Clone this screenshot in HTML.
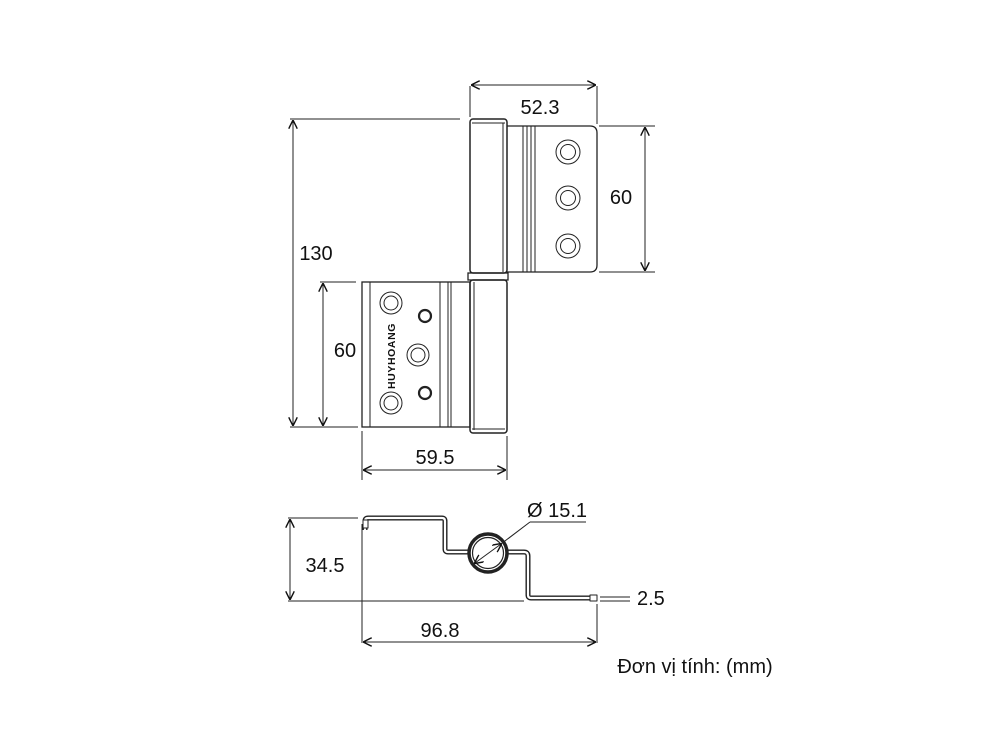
<!DOCTYPE html>
<html><head><meta charset="utf-8"><style>
body{margin:0;background:#fff}
svg text{font-family:"Liberation Sans",sans-serif;fill:#111}
</style></head><body>
<svg width="1000" height="748" viewBox="0 0 1000 748" xmlns="http://www.w3.org/2000/svg">
<defs>
<marker id="a" viewBox="0 0 10 10" refX="9" refY="5" markerWidth="9" markerHeight="9" orient="auto-start-reverse" markerUnits="userSpaceOnUse"><path d="M0,0 L10,5 L0,10" fill="none" stroke="#111" stroke-width="1.6"/></marker>
</defs>
<g stroke="#222" fill="none" stroke-width="1">
<path d="M507,126 H590 Q597,126 597,133 V265 Q597,272 590,272 H507" stroke-width="1.3"/>
<line x1="523" y1="126" x2="523" y2="272"/><line x1="527" y1="126" x2="527" y2="272"/>
<line x1="531" y1="126" x2="531" y2="272"/><line x1="535" y1="126" x2="535" y2="272"/>
<circle cx="568" cy="152" r="12"/><circle cx="568" cy="152" r="7.5"/>
<circle cx="568" cy="198" r="12"/><circle cx="568" cy="198" r="7.5"/>
<circle cx="568" cy="246" r="12"/><circle cx="568" cy="246" r="7.5"/>
<rect x="470" y="119" width="37" height="154" rx="3" stroke-width="1.5"/>
<line x1="472" y1="123" x2="505" y2="123"/><line x1="503" y1="123" x2="503" y2="272"/>
<rect x="468" y="273" width="40" height="7" stroke-width="1.3"/>
<rect x="470" y="280" width="37" height="153" rx="3" stroke-width="1.5"/>
<line x1="472" y1="429" x2="505" y2="429"/><line x1="474" y1="282" x2="474" y2="430"/>
<rect x="362" y="282" width="108" height="145" stroke-width="1.3"/>
<line x1="370" y1="282" x2="370" y2="427"/>
<line x1="440" y1="282" x2="440" y2="427"/><line x1="448" y1="282" x2="448" y2="427"/><line x1="451" y1="282" x2="451" y2="427"/>
<circle cx="391" cy="303" r="11"/><circle cx="391" cy="303" r="7"/>
<circle cx="391" cy="403" r="11"/><circle cx="391" cy="403" r="7"/>
<circle cx="418" cy="355" r="11"/><circle cx="418" cy="355" r="7"/>
<circle cx="425" cy="316" r="6" stroke-width="2.2"/><circle cx="425" cy="393" r="6" stroke-width="2.2"/>
</g>
<text x="0" y="0" transform="translate(395,356) rotate(-90)" text-anchor="middle" font-size="10.5" font-weight="bold" style="letter-spacing:0.6px">HUYHOANG</text>
<g stroke="#222" stroke-width="1" fill="none">
<line x1="470" y1="86" x2="470" y2="117"/><line x1="597" y1="86" x2="597" y2="124"/>
<line x1="472" y1="85" x2="595" y2="85" marker-start="url(#a)" marker-end="url(#a)"/>
<line x1="599" y1="126" x2="655" y2="126"/><line x1="599" y1="272" x2="655" y2="272"/>
<line x1="645" y1="128" x2="645" y2="270" marker-start="url(#a)" marker-end="url(#a)"/>
<line x1="290" y1="119" x2="460" y2="119"/><line x1="290" y1="427" x2="358" y2="427"/>
<line x1="293" y1="121" x2="293" y2="425" marker-start="url(#a)" marker-end="url(#a)"/>
<line x1="320" y1="282" x2="356" y2="282"/>
<line x1="323" y1="284" x2="323" y2="425" marker-start="url(#a)" marker-end="url(#a)"/>
<line x1="362" y1="431" x2="362" y2="480"/><line x1="507" y1="436" x2="507" y2="480"/>
<line x1="364" y1="470" x2="505" y2="470" marker-start="url(#a)" marker-end="url(#a)"/>
</g>
<text x="540" y="114" text-anchor="middle" font-size="20">52.3</text>
<text x="621" y="204" text-anchor="middle" font-size="20">60</text>
<text x="316" y="260" text-anchor="middle" font-size="20">130</text>
<text x="345" y="357" text-anchor="middle" font-size="20">60</text>
<text x="435" y="464" text-anchor="middle" font-size="20">59.5</text>
<g fill="none" stroke-linejoin="round">
<path d="M365,530 V521 Q365,518 368,518 H442 Q445,518 445,521 V549 Q445,552 448,552 H470 M506,552 H524 Q528,552 528,556 V595 Q528,598 531,598 H596" stroke="#222" stroke-width="5"/>
<path d="M365,530 V521 Q365,518 368,518 H442 Q445,518 445,521 V549 Q445,552 448,552 H470 M506,552 H524 Q528,552 528,556 V595 Q528,598 531,598 H596" stroke="#fff" stroke-width="2.2"/>
<rect x="363" y="520" width="5" height="8" stroke="#222" stroke-width="1" fill="#fff"/>
<rect x="590" y="595" width="7" height="6" stroke="#222" stroke-width="1" fill="#fff"/>
<circle cx="488" cy="553" r="19" stroke="#222" stroke-width="3.5"/>
<circle cx="488" cy="553" r="15.5" stroke="#222" stroke-width="1.2"/>
</g>
<g stroke="#222" stroke-width="1" fill="none">
<line x1="475" y1="563" x2="501" y2="544" marker-start="url(#a)" marker-end="url(#a)"/>
<line x1="501" y1="544" x2="530" y2="522"/><line x1="530" y1="522" x2="586" y2="522"/>
<line x1="288" y1="518" x2="358" y2="518"/><line x1="288" y1="601" x2="524" y2="601"/>
<line x1="290" y1="520" x2="290" y2="599" marker-start="url(#a)" marker-end="url(#a)"/>
<line x1="362" y1="524" x2="362" y2="643"/><line x1="597" y1="604" x2="597" y2="643"/>
<line x1="364" y1="642" x2="595" y2="642" marker-start="url(#a)" marker-end="url(#a)"/>
<line x1="600" y1="597" x2="630" y2="597"/><line x1="600" y1="601" x2="630" y2="601"/>
</g>
<text x="557" y="517" text-anchor="middle" font-size="20">Ø 15.1</text>
<text x="325" y="572" text-anchor="middle" font-size="20">34.5</text>
<text x="440" y="637" text-anchor="middle" font-size="20">96.8</text>
<text x="637" y="605" font-size="20">2.5</text>
<text x="695" y="673" text-anchor="middle" font-size="20">Đơn vị tính: (mm)</text>
</svg>
</body></html>
